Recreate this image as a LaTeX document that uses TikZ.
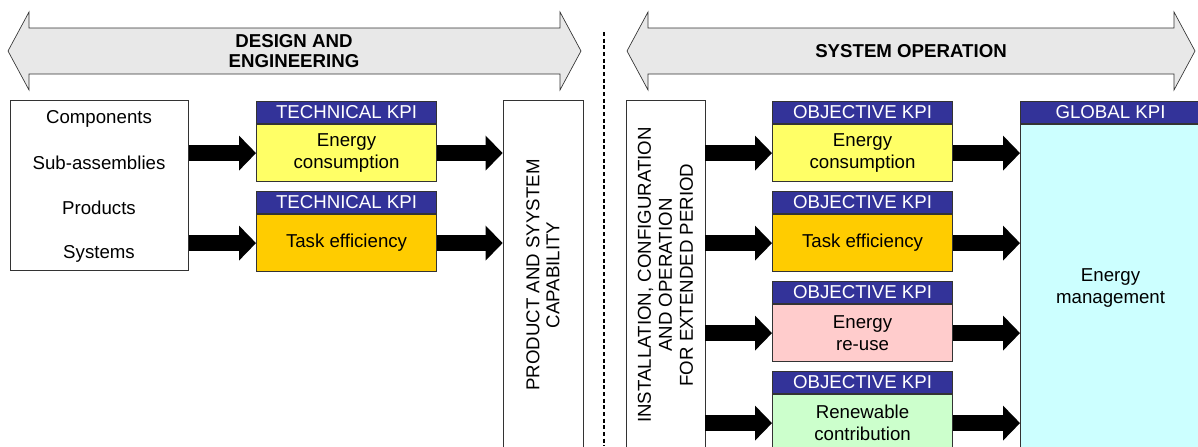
\documentclass[tikz,border=0pt]{standalone}
\usepackage{fontspec}
\setmainfont{Liberation Sans}
\usetikzlibrary{arrows.meta,calc,positioning}
\definecolor{kpiblue}{HTML}{333399}
\definecolor{kpiyellow}{HTML}{FFFF66}
\definecolor{kpiorange}{HTML}{FFCC00}
\definecolor{kpipink}{HTML}{FFCCCC}
\definecolor{kpigreen}{HTML}{CCFFCC}
\definecolor{kpicyan}{HTML}{CCFFFF}
\definecolor{bannergray}{HTML}{E8E8E8}
\tikzset{
  kpihead/.style={draw=black!80,line width=0.8pt,fill=kpiblue,text=white,minimum width=135pt,minimum height=16.5pt,inner sep=0pt},
  kpibody/.style={draw=black!80,line width=0.8pt,minimum width=135pt,minimum height=42.75pt,inner sep=0pt,align=center},
  sidebox/.style={draw=black!80,line width=0.6pt,fill=white,inner sep=0pt,align=center},
  fatarrow/.style={line width=12pt,-{Triangle[length=12.75pt,width=26.25pt,line width=0pt]}},
  banner/.style={draw=black!80,line width=0.5pt,fill=bannergray},
  title/.style={font=\fontsize{14}{15}\selectfont\bfseries,align=center},
  sepline/.style={dashed,dash pattern=on 3pt off 2pt,line width=0.8pt}
}

\begin{document}
\begin{tikzpicture}[x=0.75pt,y=-0.75pt,font=\fontsize{14}{16.5}\selectfont]
\clip (0,0) rectangle (1198,446);
\foreach \xa/\xb in {8/581,627/1195}{\draw[banner] (\xa,51) -- (\xa+21,12) -- (\xa+21,28) -- (\xb-21,28) -- (\xb-21,12) -- (\xb,51) -- (\xb-21,90) -- (\xb-21,74) -- (\xa+21,74) -- (\xa+21,90) -- cycle;}
\node[title] (design) at (294,51) {DESIGN AND\\ENGINEERING};
\node[title] (operation) at (911,51) {SYSTEM OPERATION};
\coordinate (septop) at (604,32);
\coordinate (sepbot) at (604,446);
\draw[sepline] (septop) -- (sepbot);

\node[sidebox,minimum width=133.5pt,minimum height=127.5pt,anchor=north west] (parts) at (10,100) {};
\foreach \t/\y [count=\i] in {Components/119,Sub-assemblies/163,Products/208,Systems/254}{\node (part\i) at (99,\y) {\t};}

\node[kpihead,anchor=north west] (th1) at (256,101) {TECHNICAL KPI};
\node[kpibody,fill=kpiyellow,below=0pt of th1] (tb1) {Energy\\consumption};
\node[kpihead,anchor=north west] (th2) at (256,191) {TECHNICAL KPI};
\node[kpibody,fill=kpiorange,below=0pt of th2] (tb2) {Task efficiency};

\node[sidebox,rotate=90,minimum width=262.5pt,minimum height=60pt,font=\fontsize{14}{15}\selectfont] (capab) at (543,275) {PRODUCT AND SYYSTEM\\CAPABILITY};
\node[sidebox,rotate=90,minimum width=262.5pt,minimum height=59.25pt,font=\fontsize{14}{15.75}\selectfont] (install) at (665.5,275) {INSTALLATION, CONFIGURATION\\AND OPERATION\\FOR EXTENDED PERIOD};

\foreach \i in {1,2}{
  \draw[fatarrow] (parts.east |- tb\i.west) -- (tb\i.west);
  \draw[fatarrow] (tb\i.east) -- (tb\i.east -| capab.north);
}

\node[kpihead,anchor=north west] (gh) at (1020,101) {GLOBAL KPI};
\node[kpibody,fill=kpicyan,minimum height=245.25pt,below=0pt of gh] (gb) {Energy\\management};

\foreach \t/\c [count=\i] in {{Energy\\consumption}/kpiyellow,{Task efficiency}/kpiorange,{Energy\\re-use}/kpipink,{Renewable\\contribution}/kpigreen}{
  \node[kpihead,anchor=north west] (oh\i) at (772,{101+90*(\i-1)}) {OBJECTIVE KPI};
  \node[kpibody,fill=\c,below=0pt of oh\i] (ob\i) {\t};
  \draw[fatarrow] (install.south |- ob\i.west) -- (ob\i.west);
  \draw[fatarrow] (ob\i.east) -- (ob\i.east -| gb.west);
}
\end{tikzpicture}
\end{document}
